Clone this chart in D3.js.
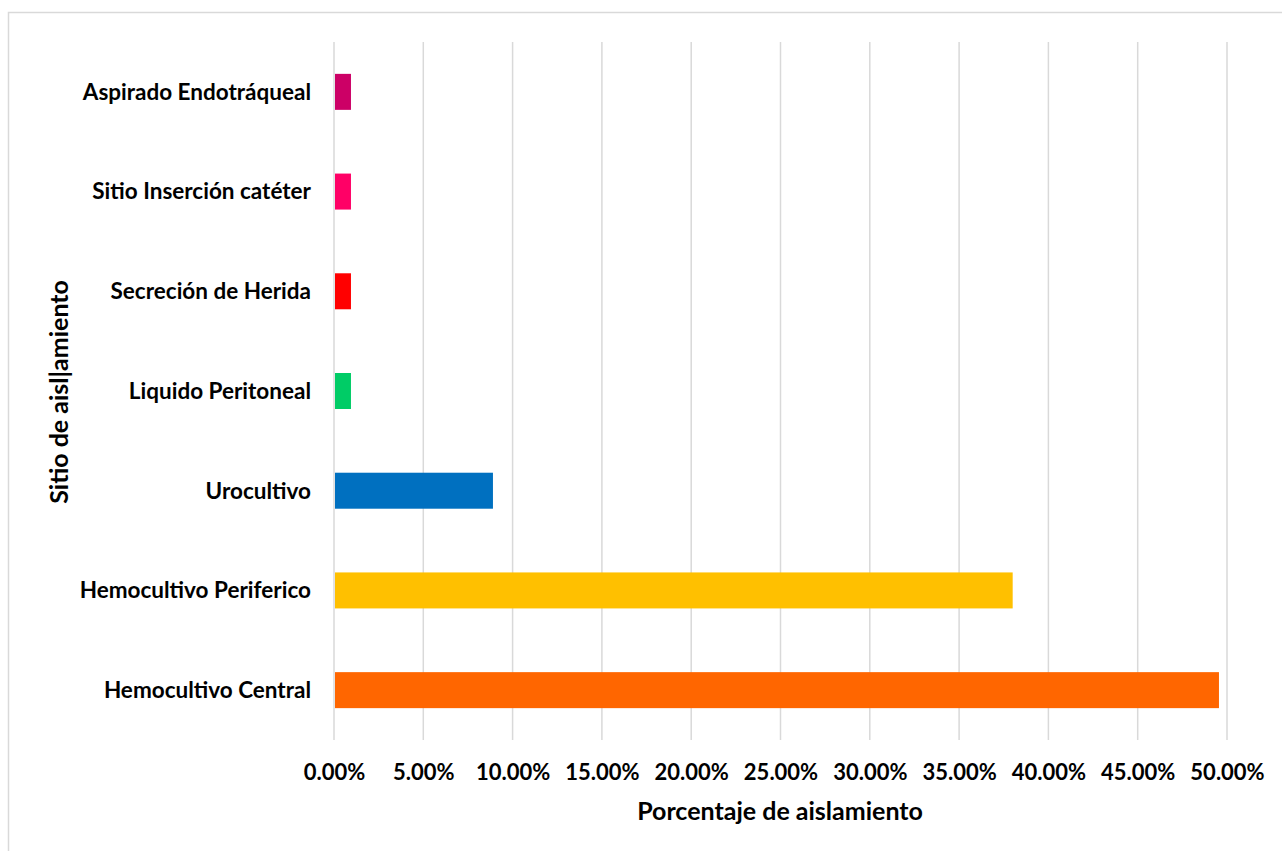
<!DOCTYPE html>
<html>
<head>
<meta charset="utf-8">
<script src="https://cdn.jsdelivr.net/npm/d3@7"></script>
<style>
  body { margin: 0; background: #fff; }
  text { font-family: Lato, "Open Sans", sans-serif; font-weight: bold; fill: #000; }
</style>
</head>
<body>
<svg id="chart" width="1282" height="851"></svg>
<script>
// categories top to bottom
var categories = ["Aspirado Endotráqueal", "Sitio Inserción catéter ", "Secreción de Herida", "Liquido Peritoneal", "Urocultivo", "Hemocultivo Periferico", "Hemocultivo Central"]
var values = [0.0095, 0.0095, 0.0095, 0.0095, 0.089, 0.380, 0.4955]
var colors = ["#CC0066", "#FF0066", "#FF0000", "#00CC66", "#0070C0", "#FFC000", "#FF6600"]
var ticks = [0, 0.05, 0.10, 0.15, 0.20, 0.25, 0.30, 0.35, 0.40, 0.45, 0.50]
var xTitle = "Porcentaje de aislamiento"
var yTitle = "Sitio de aisl|amiento"

var svg = d3.select('svg#chart')

// chart area border (cut by the right and bottom edge like the original)
svg.append('rect')
	.attr('x', 8.5).attr('y', 12.5)
	.attr('width', 1300).attr('height', 860)
	.style('fill', 'none')
	.style('stroke', '#d9d9d9')
	.style('stroke-width', 1.5)

var scale_x = d3.scaleLinear()
	.domain([0, 0.5])
	.range([334, 1227])
var scale_y = d3.scaleBand()
	.domain(categories)
	.range([42, 740])
	.paddingInner(0.639)
	.paddingOuter(0.3195)

// gridlines
svg.append('g')
	.selectAll('line')
	.data(ticks)
	.enter()
	.append('line')
	.attr('x1', function(d){return scale_x(d)})
	.attr('x2', function(d){return scale_x(d)})
	.attr('y1', 42)
	.attr('y2', 740)
	.style('stroke', '#d9d9d9')
	.style('stroke-width', 1.5)

// x axis tick labels
var xAxis = d3.axisBottom(scale_x)
	.tickValues(ticks)
	.tickSize(0)
	.tickPadding(0)
	.tickFormat(function(d){return (d * 100).toFixed(2) + '%'})
var gx = svg.append('g')
	.attr('transform', 'translate(0,780)')
	.call(xAxis)
gx.select('.domain').remove()
gx.selectAll('text')
	.attr('dy', 0)
	.style('font-size', '22px')
	.style('font-family', 'Lato, sans-serif')

// y axis category labels
var yAxis = d3.axisLeft(scale_y).tickSize(0).tickPadding(23)
var gy = svg.append('g')
	.attr('transform', 'translate(334,0)')
	.call(yAxis)
gy.select('.domain').remove()
gy.selectAll('text')
	.attr('dy', '0.35em')
	.style('font-size', '22.5px')
	.style('font-family', 'Lato, sans-serif')

// bars
svg.append('g')
	.selectAll('rect')
	.data(categories)
	.enter()
	.append('rect')
	.attr('x', scale_x(0) + 1)
	.attr('y', function(d){return scale_y(d)})
	.attr('width', function(d, i){return scale_x(values[i]) - scale_x(0) - 1})
	.attr('height', scale_y.bandwidth())
	.style('fill', function(d, i){return colors[i]})

// axis titles
svg.append('text')
	.attr('x', 780)
	.attr('y', 820)
	.attr('text-anchor', 'middle')
	.style('font-size', '25px')
	.text(xTitle)

svg.append('text')
	.attr('transform', 'translate(68,392) rotate(-90)')
	.attr('text-anchor', 'middle')
	.style('font-size', '25px')
	.text(yTitle)
</script>
</body>
</html>
